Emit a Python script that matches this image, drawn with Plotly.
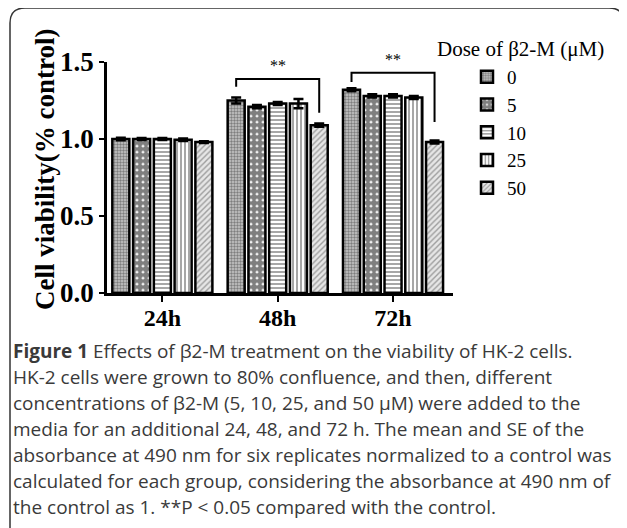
import plotly.graph_objects as go

# page body has an 8px margin: size the figure so it fits the 627x528 window
OFF = 8
W, H = 627 - OFF, 528 - OFF

# ---------------- data ----------------
times = ["24h", "48h", "72h"]
doses = ["0", "5", "10", "25", "50"]
viability = {
    "0":  [1.00, 1.25, 1.32],
    "5":  [1.00, 1.21, 1.28],
    "10": [1.00, 1.23, 1.28],
    "25": [0.995, 1.23, 1.27],
    "50": [0.98, 1.09, 0.98],
}
se = {
    "0":  [0.008, 0.02, 0.01],
    "5":  [0.006, 0.01, 0.01],
    "10": [0.006, 0.01, 0.01],
    "25": [0.008, 0.03, 0.01],
    "50": [0.006, 0.01, 0.01],
}
# significance brackets (between dose 0 and dose 50)
sig_groups = ["48h", "72h"]
sig_top = [1.39, 1.43]
sig_left_end = [1.34, 1.37]
sig_right_end = [1.17, 1.11]
sig_label = ["**", "**"]

caption_lines = [
    "<b>Figure 1</b> Effects of β2-M treatment on the viability of HK-2 cells.",
    "HK-2 cells were grown to 80% confluence, and then, different",
    "concentrations of β2-M (5, 10, 25, and 50 μM) were added to the",
    "media for an additional 24, 48, and 72 h. The mean and SE of the",
    "absorbance at 490 nm for six replicates normalized to a control was",
    "calculated for each group, considering the absorbance at 490 nm of",
    "the control as 1. **P < 0.05 compared with the control.",
]

# ---------------- styles ----------------
patterns = {
    "0":  dict(shape=".", size=3, solidity=0.5, fgcolor="#333", bgcolor="#c8c8c8"),
    "5":  dict(shape=".", size=6, solidity=0.8, fgcolor="black", bgcolor="white"),
    "10": dict(shape="-", size=4, solidity=0.4, fgcolor="#222", bgcolor="white"),
    "25": dict(shape="|", size=4, solidity=0.4, fgcolor="#222", bgcolor="white"),
    "50": dict(shape="/", size=4, solidity=0.35, fgcolor="#555", bgcolor="#e6e6e6"),
}

def px(x):
    return (x - OFF) / W

def py(y):
    return 1 - (y - OFF) / H

SERIF = "Liberation Serif"
BARGAP = 0.1
BARGROUPGAP = 0.18

fig = go.Figure()
for d in doses:
    fig.add_trace(go.Bar(
        x=times, y=viability[d], name=d,
        marker=dict(color="white", pattern=patterns[d],
                    line=dict(color="black", width=2.5)),
        error_y=dict(type="data", array=se[d], visible=True,
                     color="black", thickness=2.5, width=5),
    ))

# brackets computed from bar slot geometry
n = len(doses)
slot = (1 - BARGAP) / n
for g, top, le, re_, lab in zip(sig_groups, sig_top, sig_left_end, sig_right_end, sig_label):
    ci = times.index(g)
    xl = ci - (1 - BARGAP) / 2 + slot / 2
    xr = ci + (1 - BARGAP) / 2 - slot / 2
    fig.add_shape(type="path", xref="x", yref="y",
                  path=f"M{xl},{le} L{xl},{top} L{xr},{top} L{xr},{re_}",
                  line=dict(color="black", width=2))
    fig.add_annotation(x=ci, y=top + 0.02, xref="x", yref="y", text=lab,
                       showarrow=False, xanchor="center", yanchor="bottom",
                       font=dict(family=SERIF, size=16, color="black"))

# y-axis title
fig.add_annotation(x=px(45), y=py(170), xref="paper", yref="paper",
                   text="<b>Cell viability(% control)</b>", textangle=-90,
                   xanchor="center", yanchor="middle",
                   showarrow=False, font=dict(family=SERIF, size=27, color="black"))

# legend title
fig.add_annotation(x=px(435), y=py(49), xref="paper", yref="paper",
                   text="Dose of β2-M (μM)", xanchor="left", yanchor="middle",
                   showarrow=False, font=dict(family=SERIF, size=21, color="black"))

# caption
for i, line in enumerate(caption_lines):
    base = 357 + 26 * i
    fig.add_annotation(x=px(11), y=py(base - 6), xref="paper", yref="paper",
                       text=line, xanchor="left", yanchor="middle", showarrow=False,
                       font=dict(family="Open Sans", size=19, color="#3a3a3a"))

# rounded border
x0, x1, y0, y1, r = px(10), px(624), py(8), py(560), 15
rx, ry = r / W, r / H
fig.add_shape(type="path", xref="paper", yref="paper",
              path=(f"M{x0},{y1} L{x0},{y0 - ry} Q{x0},{y0} {x0 + rx},{y0} "
                    f"L{x1 - rx},{y0} Q{x1},{y0} {x1},{y0 - ry} L{x1},{y1}"),
              line=dict(color="#333", width=1.5))

fig.update_layout(
    width=W, height=H,
    margin=dict(l=0, r=0, t=0, b=0),
    paper_bgcolor="white", plot_bgcolor="white",
    barmode="group", bargap=BARGAP, bargroupgap=BARGROUPGAP,
    showlegend=True,
    legend=dict(x=px(467), y=py(58), xanchor="left", yanchor="top",
                font=dict(family=SERIF, size=19, color="black"),
                bgcolor="rgba(0,0,0,0)", traceorder="normal"),
    xaxis=dict(domain=[px(107), px(453)], type="category",
               categoryorder="array", categoryarray=times,
               range=[-0.48, 2.52], showline=True, linecolor="black", linewidth=2.5,
               ticks="outside", ticklen=6, tickwidth=2, tickcolor="black",
               ticklabelstandoff=-5,
               tickfont=dict(family=SERIF, size=24, color="black", weight="bold"),
               showgrid=False, zeroline=False, automargin=False),
    yaxis=dict(domain=[py(293), py(62)], range=[0, 1.5], dtick=0.5, tickformat=".1f",
               showline=True, linecolor="black", linewidth=2.5,
               ticks="outside", ticklen=5, tickwidth=2, tickcolor="black",
               tickfont=dict(family=SERIF, size=27, color="black", weight="bold"),
               showgrid=False, zeroline=False, automargin=False),
)

fig.write_html("out.html")
